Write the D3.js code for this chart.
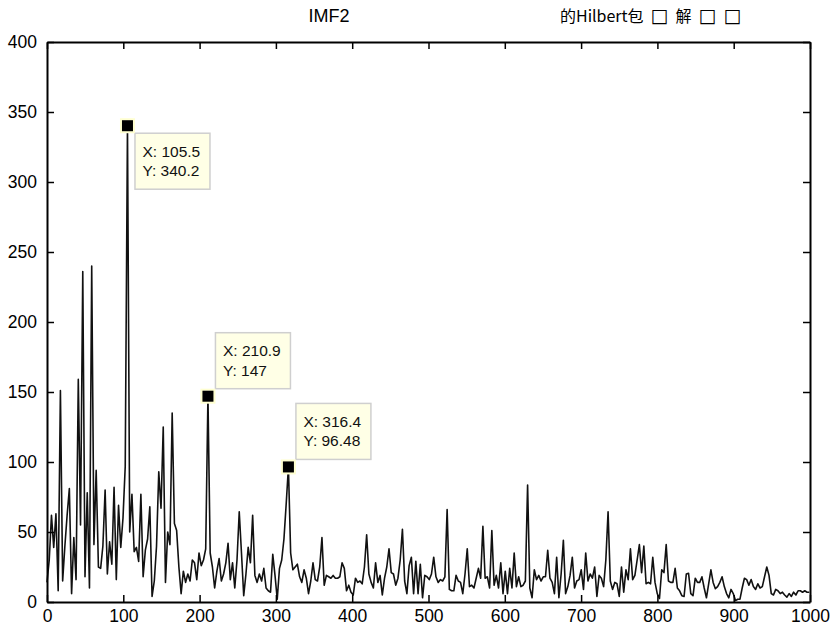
<!DOCTYPE html>
<html>
<head>
<meta charset="utf-8">
<script src="https://cdn.jsdelivr.net/npm/d3@7/dist/d3.min.js"></script>
<style>
  body { margin: 0; background: #fff; }
  svg text { font-family: "Liberation Sans", Arial, sans-serif; }
</style>
</head>
<body>
<div id="chart"></div>
<script>
// spectrum bin spacing (Hz)
const df = 3000 / 1024;

// amplitude per bin
const amp = [
  14, 30, 62, 39, 63, 8, 151, 15, 40, 62,
  81, 6, 46, 16, 159, 55, 236, 18, 78, 10,
  240, 41, 94, 25, 24, 40, 80, 20, 43, 27,
  82, 16, 69, 39, 60, 97, 340.2, 50, 77, 36,
  39, 29, 77, 18, 37, 45, 68, 4, 15, 40,
  93, 67, 125, 14, 50, 41, 135, 56, 51, 25,
  6, 22, 14, 20, 15, 30, 28, 16, 35, 26,
  30, 38, 147, 35, 25, 10, 22, 31, 15, 20,
  28, 42, 16, 28, 10, 30, 64.5, 35, 4.5, 20,
  39, 28, 62, 19, 14, 20, 15, 24, 10, 8,
  7, 34, 19, 2, 24, 30, 45, 70, 96.48, 35,
  23, 25, 27, 18, 14, 23, 17, 6, 15, 28,
  16, 15, 25, 46, 12, 19, 18, 17, 19, 17,
  17, 18, 28, 24, 8, 12, 7, 5, 17, 14,
  15, 13, 25, 48, 20, 14, 10, 28, 14, 19,
  5, 17, 25, 38, 21, 20, 12, 17, 30, 52,
  15, 6, 26, 32, 6, 29, 6, 27, 3, 19,
  18, 16, 20, 32, 18, 14, 16, 15, 18, 66,
  9, 8, 8, 19, 15, 14, 6, 20, 38, 11,
  12, 10, 17, 24, 17, 54, 17, 18, 10, 51,
  12, 19, 10, 28, 6, 22, 6, 24, 10, 35,
  11, 18, 11, 12, 15, 83.6, 10, 3, 23, 16,
  19, 15, 18, 18, 37, 17, 14, 6, 32, 3,
  20, 44, 6, 11, 19, 32, 10, 15, 16, 23,
  9, 35, 15, 20, 17, 25, 4, 19, 17, 11,
  30, 64.5, 15, 9, 14, 13, 4, 25, 7, 23,
  16, 38, 16, 19, 30, 41, 21, 40, 13, 14,
  13, 32, 14, 6, 2.5, 23, 21, 41, 15, 14,
  14, 24, 10, 8, 4.5, 4, 20, 20.5, 6, 4.5,
  17, 14, 14, 18, 10, 3, 13, 23, 14, 9.5,
  11, 14, 18, 11, 6, 3, 9, 6, 1, 2,
  2, 10, 17, 16, 12, 16, 11, 9, 13, 10,
  11, 18, 25, 19, 6, 5, 9, 8, 6, 7,
  5, 3.5, 6, 4, 7, 5, 8, 8, 7, 8,
  7, 7
];

const xTicks = [0, 100, 200, 300, 400, 500, 600, 700, 800, 900, 1000];
const yTicks = [0, 50, 100, 150, 200, 250, 300, 350, 400];

// data tips
const tipBins = [36, 72, 108];
const tipX = ['105.5', '210.9', '316.4'];
const tipY = ['340.2', '147', '96.48'];

// title pieces (the original has missing-glyph boxes)
const titleMain = 'IMF2';
const titleParts = ['的Hilbert包', '\u25A1', '解', '\u25A1', '\u25A1'];

const svgWidth = 832;
const svgHeight = 628;
const margin = { top: 42, right: 22, bottom: 26, left: 47 };
const width = svgWidth - margin.left - margin.right;
const height = svgHeight - margin.top - margin.bottom;

const svg = d3.select('#chart')
    .append('svg')
    .attr('width', svgWidth)
    .attr('height', svgHeight)
    .append('g')
    .attr('transform', 'translate(' + margin.left + ',' + margin.top + ')');

const x = d3.scaleLinear().domain([0, 1000]).range([0, width]);
const y = d3.scaleLinear().domain([0, 400]).range([height, 0]);

const line = d3.line()
    .x((d, i) => x(i * df))
    .y(d => y(d));

svg.append('path')
    .datum(amp)
    .attr('fill', 'none')
    .attr('stroke', '#111')
    .attr('stroke-width', 1.6)
    .attr('stroke-linejoin', 'round')
    .attr('d', line);

function styleAxis(g) {
    g.select('.domain').attr('stroke', '#000').attr('stroke-width', 2);
    g.selectAll('.tick line').attr('stroke', '#000').attr('stroke-width', 1.5);
    g.selectAll('text').attr('font-size', 17.5).attr('fill', '#000');
}

svg.append('g')
    .attr('transform', 'translate(0,' + height + ')')
    .call(d3.axisBottom(x).tickValues(xTicks).tickFormat(d3.format('d'))
        .tickSize(-7).tickSizeOuter(0).tickPadding(8))
    .call(styleAxis);

svg.append('g')
    .call(d3.axisLeft(y).tickValues(yTicks).tickFormat(d3.format('d'))
        .tickSize(-7).tickSizeOuter(0).tickPadding(10))
    .call(styleAxis);

svg.append('g')
    .call(d3.axisTop(x).tickValues(xTicks).tickSize(-7).tickSizeOuter(0).tickFormat(''))
    .call(styleAxis);

svg.append('g')
    .attr('transform', 'translate(' + width + ',0)')
    .call(d3.axisRight(y).tickValues(yTicks).tickSize(-7).tickSizeOuter(0).tickFormat(''))
    .call(styleAxis);

// data tips
tipBins.forEach((b, i) => {
    const px = x(b * df);
    const py = y(amp[b]);
    const boxW = 75, boxH = 56;
    const bx = px + 7;
    const by = i === 0 ? py + 7 : py - 8 - boxH;

    const tip = svg.append('g');
    tip.append('rect')
        .attr('x', bx + 0.5)
        .attr('y', by + 0.5)
        .attr('width', boxW)
        .attr('height', boxH)
        .attr('fill', '#ffffe6')
        .attr('stroke', '#cfcfcf')
        .attr('stroke-width', 1.5);
    tip.append('text')
        .attr('x', bx + 8)
        .attr('y', by + 24)
        .attr('font-size', 15.5)
        .attr('fill', '#111')
        .text('X: ' + tipX[i]);
    tip.append('text')
        .attr('x', bx + 8)
        .attr('y', by + 43.5)
        .attr('font-size', 15.5)
        .attr('fill', '#111')
        .text('Y: ' + tipY[i]);

    tip.append('rect')
        .attr('x', px - 7.5)
        .attr('y', py - 7.5)
        .attr('width', 15)
        .attr('height', 15)
        .attr('fill', '#ffffd0');
    tip.append('rect')
        .attr('x', px - 5.5)
        .attr('y', py - 5.5)
        .attr('width', 11)
        .attr('height', 11)
        .attr('fill', '#000');
});

// title
svg.append('text')
    .attr('x', 329 - margin.left)
    .attr('y', 22 - margin.top)
    .attr('text-anchor', 'middle')
    .attr('font-size', 18)
    .attr('fill', '#000')
    .text(titleMain);

const rest = svg.append('text')
    .attr('x', 560 - margin.left)
    .attr('y', 22 - margin.top)
    .attr('font-size', 16)
    .attr('fill', '#000')
    .style('font-family', '"Noto Sans CJK SC", sans-serif');

rest.selectAll('tspan')
    .data(titleParts)
    .enter().append('tspan')
    .attr('dx', (d, i) => i === 0 ? 0 : 7)
    .style('font-family', d => d === '\u25A1' ? '"DejaVu Sans", sans-serif' : null)
    .attr('font-size', d => d === '\u25A1' ? 19 : null)
    .attr('fill', '#000')
    .text(d => d);
</script>
</body>
</html>
